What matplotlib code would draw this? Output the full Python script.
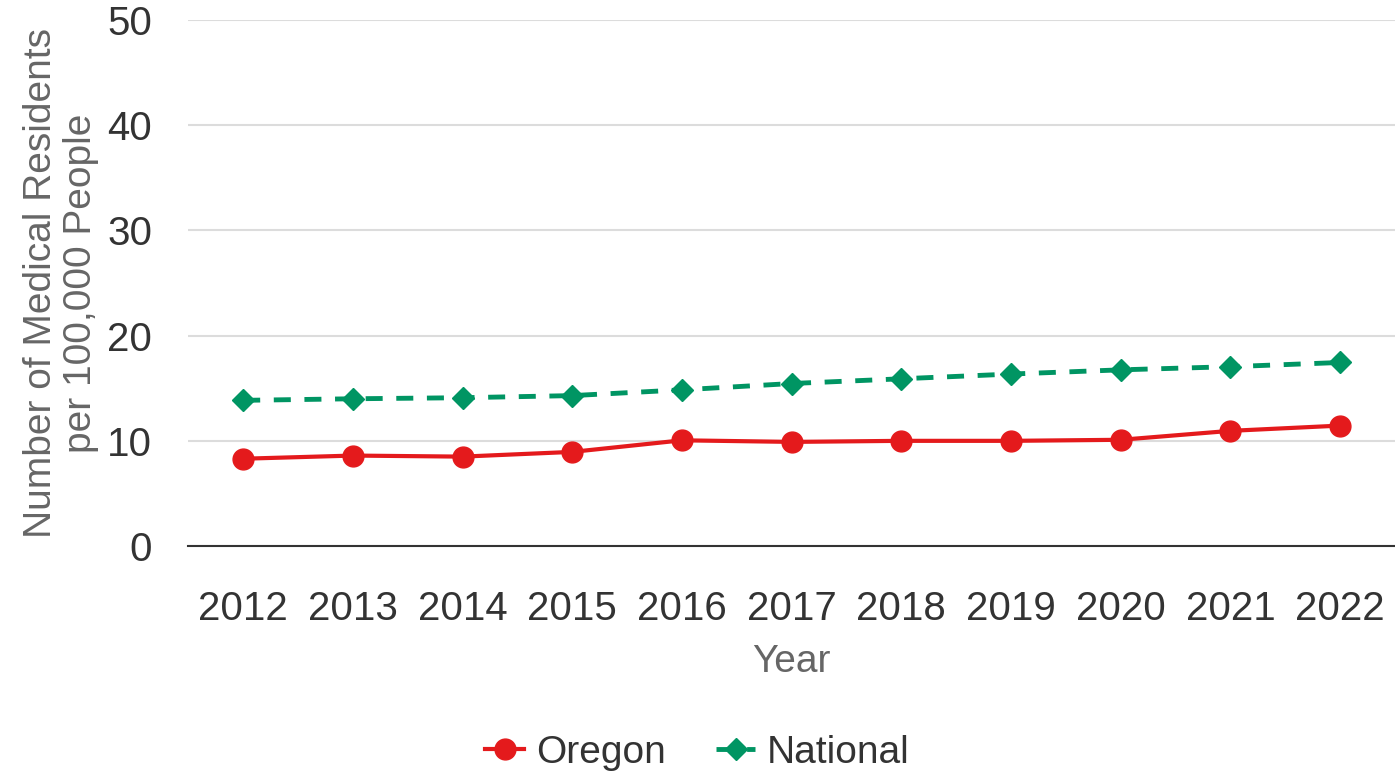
import matplotlib.pyplot as plt

years = ['2012', '2013', '2014', '2015', '2016', '2017', '2018', '2019', '2020', '2021', '2022']
oregon = [8.3, 8.6, 8.5, 8.95, 10.05, 9.9, 10.0, 10.0, 10.1, 10.95, 11.45]
national = [13.85, 14.0, 14.1, 14.3, 14.85, 15.45, 15.9, 16.35, 16.75, 17.05, 17.45]

plt.rcParams['font.family'] = ['Liberation Sans', 'DejaVu Sans']

fig = plt.figure(figsize=(13.95, 7.72), dpi=100)
ax = fig.add_axes([0.135, 0.2927, 0.865, 0.6813])

x = range(len(years))
ax.plot(x, oregon, color='#e41a1c', lw=3, marker='o', ms=15, label='Oregon', zorder=3)
ax.plot(x, national, color='#009563', lw=3.5, ls=(0, (3.5, 2.8)), marker='D', ms=11,
        label='National', zorder=3)

ax.set_xlim(-0.5, len(years) - 0.5)
ax.set_ylim(0, 50)
ax.set_yticks([0, 10, 20, 30, 40, 50])
ax.set_xticks(list(x))
ax.set_xticklabels(years)
ax.grid(axis='y', color='#dcdcdc', lw=1.5)
ax.set_axisbelow(True)
for s in ['top', 'right', 'left']:
    ax.spines[s].set_visible(False)
ax.spines['bottom'].set_color('#333333')
ax.spines['bottom'].set_linewidth(1.5)
ax.tick_params(axis='both', length=0, labelsize=29, labelcolor='#333333')
ax.tick_params(axis='x', pad=32)
ax.tick_params(axis='y', pad=26)

ax.set_xlabel('Year', fontsize=28, color='#666666', labelpad=11)
ax.set_ylabel('Number of Medical Residents\nper 100,000 People', fontsize=28,
              color='#666666', labelpad=6, linespacing=1.15)

fig.legend(*ax.get_legend_handles_labels(), loc='center', bbox_to_anchor=(0.5, 0.025),
           ncol=2, frameon=False, fontsize=28, handlelength=1.0, handletextpad=0.3,
           columnspacing=1.3, labelcolor='#333333')

fig.savefig('out.png', dpi=100)
